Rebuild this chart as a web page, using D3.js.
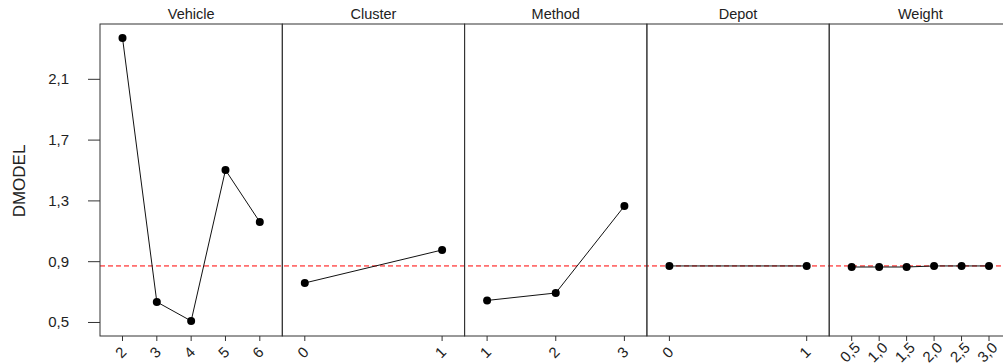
<!DOCTYPE html>
<meta charset="utf-8">
<script src="https://cdn.jsdelivr.net/npm/d3@7"></script>
<style>
body { margin: 0; background: #fff; }
text { font-family: "Liberation Sans", Arial, sans-serif; fill: #222; }
.frame { stroke: #333; fill: none; }
.effect { stroke: #111; fill: none; stroke-width: 1; }
.ref { stroke: #f00; stroke-dasharray: 5,3; stroke-width: 1; }
</style>
<svg width="1003" height="363"></svg>
<script>

// 因子与水平
var factors = ["Vehicle", "Cluster", "Method", "Depot", "Weight"];
var vehicleLevels = ["2", "3", "4", "5", "6"];
var clusterLevels = ["0", "1"];
var methodLevels = ["1", "2", "3"];
var depotLevels = ["0", "1"];
var weightLevels = ["0,5", "1,0", "1,5", "2,0", "2,5", "3,0"];

// 各水平的均值
var vehicleMeans = [2.372, 0.635, 0.51, 1.503, 1.161];
var clusterMeans = [0.76, 0.977];
var methodMeans = [0.645, 0.694, 1.266];
var depotMeans = [0.872, 0.872];
var weightMeans = [0.865, 0.865, 0.865, 0.872, 0.872, 0.872];

var grandMean = 0.872;
var yTicks = [0.5, 0.9, 1.3, 1.7, 2.1];

var panels = [
    {name: factors[0], levels: vehicleLevels, means: vehicleMeans},
    {name: factors[1], levels: clusterLevels, means: clusterMeans},
    {name: factors[2], levels: methodLevels, means: methodMeans},
    {name: factors[3], levels: depotLevels, means: depotMeans},
    {name: factors[4], levels: weightLevels, means: weightMeans}
];

var svg = d3.select("svg"),
    plotTop = 24, plotBottom = 336, plotLeft = 100, plotRight = 1011.5;

var y = d3.scaleLinear().domain([0.411, 2.464]).range([plotBottom, plotTop]);
var px = d3.scaleBand().domain(factors).range([plotLeft, plotRight]);
var fmt = function(v) { return d3.format(".1f")(v).replace(".", ","); };

// 参考线（总均值）
svg.append("line")
    .attr("class", "ref")
    .attr("x1", plotLeft).attr("x2", plotRight)
    .attr("y1", y(grandMean)).attr("y2", y(grandMean));

// y轴
var yg = svg.append("g");
yTicks.forEach(function(t) {
    yg.append("line").attr("class", "frame")
        .attr("x1", plotLeft - 12).attr("x2", plotLeft)
        .attr("y1", y(t)).attr("y2", y(t));
    yg.append("text")
        .attr("x", 69).attr("y", y(t) + 5)
        .attr("text-anchor", "end")
        .style("font-size", "15px")
        .text(fmt(t));
});

svg.append("text")
    .attr("transform", "translate(25," + 181 + ") rotate(-90)")
    .attr("text-anchor", "middle")
    .style("font-size", "17px")
    .text("DMODEL");

panels.forEach(function(p) {
    var x0 = px(p.name), w = px.bandwidth();
    var x = d3.scalePoint().domain(p.levels).range([x0 + 22.5, x0 + w - 22.5]);
    var g = svg.append("g");

    g.append("rect").attr("class", "frame")
        .attr("x", x0).attr("y", plotTop)
        .attr("width", w).attr("height", plotBottom - plotTop);

    g.append("text")
        .attr("x", x0 + w / 2).attr("y", 19)
        .attr("text-anchor", "middle")
        .style("font-size", "14.5px")
        .text(p.name);

    var pts = p.levels.map(function(l, i) { return [x(l), y(p.means[i])]; });

    g.append("path").attr("class", "effect")
        .attr("d", d3.line()(pts));

    g.selectAll("circle").data(pts).enter().append("circle")
        .attr("cx", function(d) { return d[0]; })
        .attr("cy", function(d) { return d[1]; })
        .attr("r", 4)
        .attr("fill", "#000");

    p.levels.forEach(function(l) {
        g.append("line").attr("class", "frame")
            .attr("x1", x(l)).attr("x2", x(l))
            .attr("y1", plotBottom).attr("y2", plotBottom + 5);
        g.append("text")
            .attr("transform", "translate(" + (x(l) + 2) + "," + 356 + ") rotate(-45)")
            .attr("text-anchor", "middle")
            .style("font-size", "15px")
            .text(l);
    });
});

</script>
